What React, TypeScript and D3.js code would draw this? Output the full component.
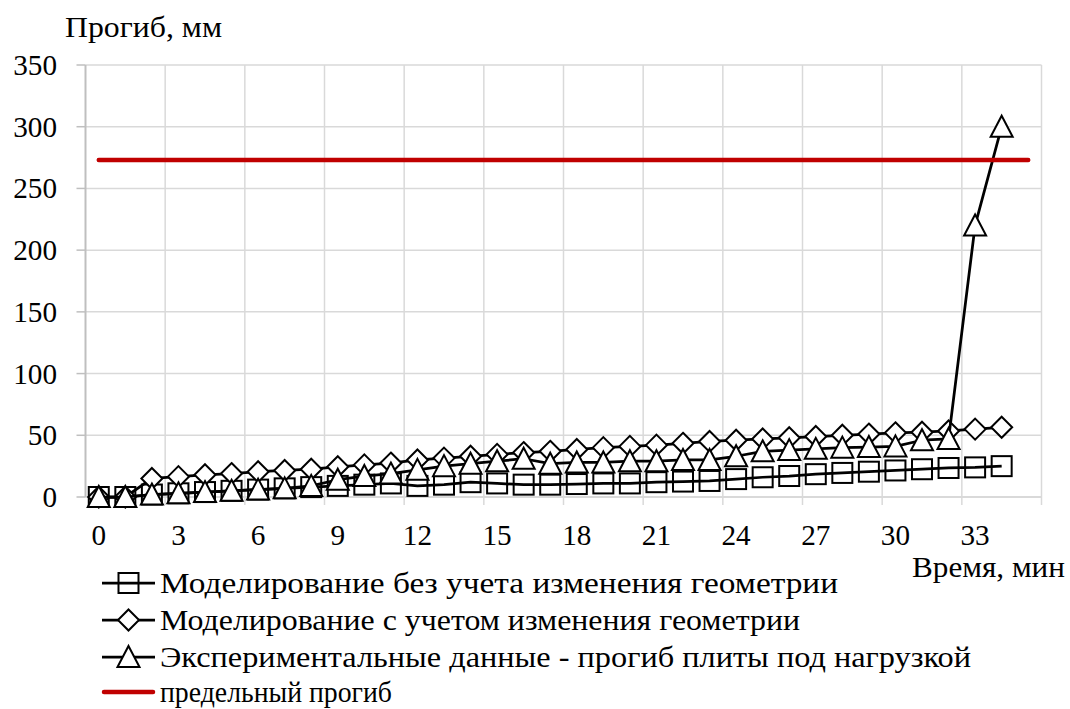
import React from "react";
import * as d3 from "d3";

const minutes: number[] = d3.range(0, 35);
const limitMinutes: number[] = d3.range(0, 36);
const withoutGeom: number[] = [0, 0, 2, 3, 4, 5, 6, 7, 8, 9, 10, 11, 9, 10, 12, 11, 10, 10, 10.5, 11, 11, 12, 12.5, 13, 14.5, 16, 17, 18.5, 19.5, 20.5, 21.5, 22.5, 23.5, 24, 25];
const withGeom: number[] = [0, 0, 15, 16.5, 18, 19, 20.5, 21.5, 22.5, 24.5, 26, 27.5, 30, 31.5, 33, 34.5, 36, 37, 38.5, 40, 41, 42, 43.5, 45, 46, 47, 48, 49, 50, 51, 52, 52.5, 53.5, 55, 56.5];
const experiment: number[] = [0, 0, 2, 3, 4, 5, 6, 7, 9, 14, 17, 19, 22, 25, 27, 29, 31, 27, 28, 28, 29, 29, 30, 30, 33, 37, 38, 39, 40, 40.5, 41, 46, 47, 220, 300];
const limitValue = 273;
const yTicks: number[] = [0, 50, 100, 150, 200, 250, 300, 350];
const xTickLabels: number[] = [0, 3, 6, 9, 12, 15, 18, 21, 24, 27, 30, 33];
const legendLabels: string[] = [
  "Моделирование без учета изменения геометрии",
  "Моделирование с учетом изменения геометрии",
  "Экспериментальные данные - прогиб плиты под нагрузкой",
  "предельный прогиб",
];
const legendWidths: number[] = [678, 640, 811, 232];

const W = 1070, H = 709;
const left = 85.5, right = 1041.5, top = 65, bottom = 497;
const FONT = "Liberation Serif, Times New Roman, serif";
const FS = 29;
const DIGIT_W = 14.6;

export default function App() {
  const x = d3.scaleLinear().domain([-0.5, 35.5]).range([left, right]);
  const y = d3.scaleLinear().domain([0, 350]).range([bottom, top]);
  const line = d3.line<number>().x((_, i) => x(i)).y((d) => y(d));
  const gridX = d3.range(1, 13).map((m) => -0.5 + 3 * m);

  const square = (cx: number, cy: number, k: string) => (
    <rect key={k} x={cx - 10} y={cy - 10} width={20} height={20} fill="none" stroke="#000" strokeWidth={2} />
  );
  const diamond = (cx: number, cy: number, k: string) => (
    <path key={k} d={`M${cx},${cy - 10.5}L${cx + 10.5},${cy}L${cx},${cy + 10.5}L${cx - 10.5},${cy}Z`} fill="#fff" stroke="#000" strokeWidth={2} />
  );
  const triangle = (cx: number, cy: number, k: string) => (
    <path key={k} d={`M${cx},${cy - 11}L${cx + 11},${cy + 10}L${cx - 11},${cy + 10}Z`} fill="#fff" stroke="#000" strokeWidth={2} />
  );
  const markers = [square, diamond, triangle];
  const series = [withoutGeom, withGeom, experiment];
  const legendY = [583, 620, 657, 692];

  return (
    <svg width={W} height={H} style={{ position: "absolute", left: 0, top: 0, background: "#fff" }} fontFamily={FONT}>
      <rect x={0} y={0} width={W} height={H} fill="#fff" />
      {yTicks.filter((t) => t > 0).map((t) => (
        <line key={"hg" + t} x1={left} x2={right} y1={y(t)} y2={y(t)} stroke="#d9d9d9" strokeWidth={1.5} />
      ))}
      {gridX.map((g) => (
        <line key={"vg" + g} x1={x(g)} x2={x(g)} y1={top} y2={bottom} stroke="#d9d9d9" strokeWidth={1.5} />
      ))}
      <line x1={left} x2={right} y1={bottom} y2={bottom} stroke="#d9d9d9" strokeWidth={2} />
      {gridX.map((g) => (
        <line key={"xt" + g} x1={x(g)} x2={x(g)} y1={bottom} y2={bottom + 8} stroke="#d9d9d9" strokeWidth={1.5} />
      ))}
      <line x1={left} x2={left} y1={top} y2={bottom} stroke="#bfbfbf" strokeWidth={2} />
      {yTicks.map((t) => (
        <line key={"yt" + t} x1={left - 9} x2={left} y1={y(t)} y2={y(t)} stroke="#bfbfbf" strokeWidth={1.5} />
      ))}
      {yTicks.map((t) => (
        <text key={"yl" + t} x={57} y={y(t)} textAnchor="end" dominantBaseline="central" fontSize={FS}
          textLength={String(t).length * DIGIT_W} lengthAdjust="spacingAndGlyphs" fill="#000">
          {t}
        </text>
      ))}
      {xTickLabels.map((t) => (
        <text key={"xl" + t} x={x(t)} y={535} textAnchor="middle" dominantBaseline="central" fontSize={FS}
          textLength={String(t).length * DIGIT_W} lengthAdjust="spacingAndGlyphs" fill="#000">
          {t}
        </text>
      ))}
      {series.map((s, si) => (
        <g key={"s" + si}>
          <path d={line(s) || ""} fill="none" stroke="#000" strokeWidth={2.75} strokeLinejoin="round" />
          {s.map((v, i) => markers[si](x(minutes[i]), y(v), `m${si}-${i}`))}
        </g>
      ))}
      <path
        d={d3.line<number>().x((d) => x(d)).y(() => y(limitValue))(limitMinutes) || ""}
        fill="none"
        stroke="#c00000"
        strokeWidth={4.5}
        strokeLinecap="round"
      />
      <text x={65} y={27} dominantBaseline="central" fontSize={FS} textLength={157} lengthAdjust="spacingAndGlyphs" fill="#000">
        Прогиб, мм
      </text>
      <text x={912} y={567} dominantBaseline="central" fontSize={FS} textLength={153} lengthAdjust="spacingAndGlyphs" fill="#000">
        Время, мин
      </text>
      {legendLabels.map((lab, i) => (
        <g key={"lg" + i}>
          {i < 3 ? (
            <>
              <line x1={102} x2={155} y1={legendY[i]} y2={legendY[i]} stroke="#000" strokeWidth={2.75} />
              {markers[i](128.5, legendY[i], "lm" + i)}
            </>
          ) : (
            <line x1={104} x2={153} y1={legendY[i]} y2={legendY[i]} stroke="#c00000" strokeWidth={4.5} strokeLinecap="round" />
          )}
          <text x={160} y={legendY[i]} dominantBaseline="central" fontSize={FS} textLength={legendWidths[i]} lengthAdjust="spacingAndGlyphs" fill="#000">
            {lab}
          </text>
        </g>
      ))}
    </svg>
  );
}
